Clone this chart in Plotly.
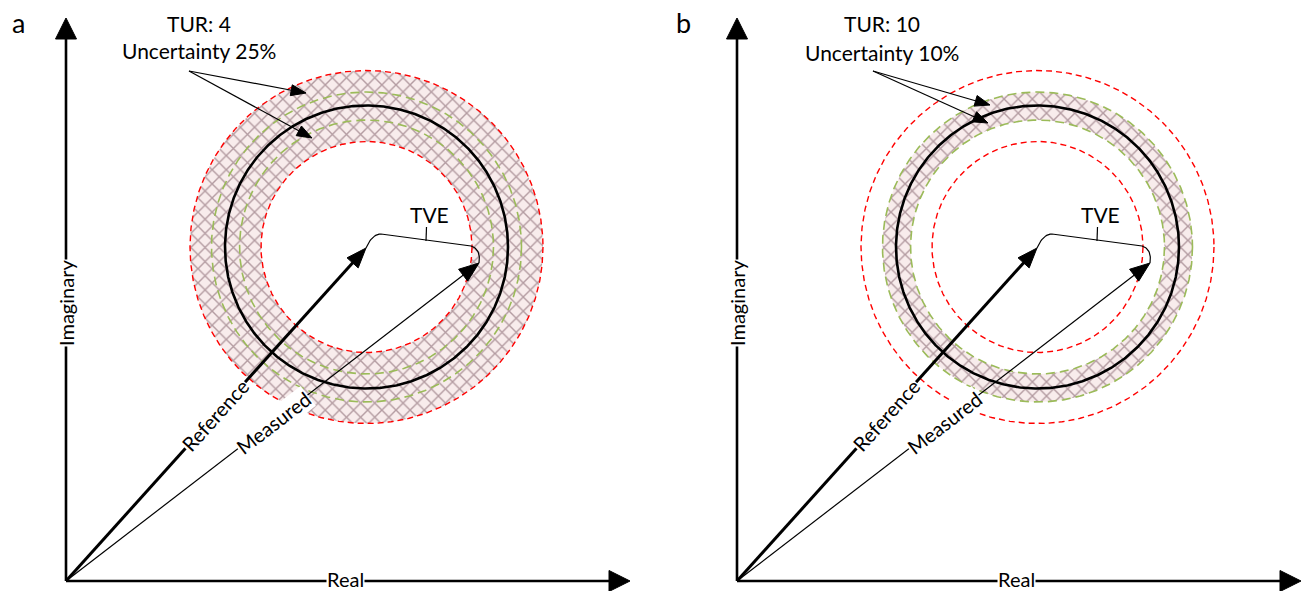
import numpy as np
import plotly.graph_objects as go

# ---------------- figure size ----------------
W, H = 1308, 591

# ---------------- diagram values (pixel units of the drawing) ----------------
panel_letters = ["a", "b"]
panel_letter_x = [18, 683]
panel_shift = [0, 671]
tur_values = [4, 10]
uncertainty_pct = [25, 10]

origin = (66, 581)
y_axis_tip = (66, 18)
x_axis_tip = (630, 581)
axis_labels = ["Imaginary", "Real"]
imag_label_y = 303
real_label_x = 345
real_label_y = 579

center = (366.5, 247)
r_reference = 141.5
r_red = [105.5, 176.5]          # dashed red limits (25 %)
r_green = [127.0, 155.0]        # dashed green limits (10 %)
r_hatch = [(105.5, 176.5), (127.0, 155.0)]   # hatched uncertainty band per panel

reference_tip = (366, 248)
measured_tip = (479, 263)
vector_labels = ["Reference", "Measured"]
reference_label_pos = (215, 415)
measured_label_pos = (273, 423)

# TVE bracket: start, control, corner, corner, control, end
tve_bracket = [(366, 248), (372, 234), (381, 234), (471, 246), (481, 249), (479, 263)]
tve_tick = [(426.5, 227), (426, 241)]
tve_text_pos = (429, 214)

tur_text_pos = [(199, 23), (882, 23)]
unc_text_pos = [(199, 50), (882, 52)]
pointer_from = [(189, 71), (873, 71)]
pointer_tips = [[(306, 93), (312, 138)], [(990, 105), (988, 123)]]

FONT = "Lato"
RED = "#ff0000"
GREEN = "#9bbb59"

fig = go.Figure()


def circle_xy(cx, cy, r, n=361, reverse=False):
    t = np.linspace(0, 2 * np.pi, n)
    if reverse:
        t = t[::-1]
    return cx + r * np.cos(t), cy + r * np.sin(t)


def add_line(xs, ys, color="black", width=1.0, dash=None):
    fig.add_trace(go.Scatter(x=list(xs), y=list(ys), mode="lines",
                             line=dict(color=color, width=width, dash=dash),
                             hoverinfo="skip", showlegend=False))


def add_arrow(p0, p1, width, head_len, head_half):
    p0 = np.array(p0, float)
    p1 = np.array(p1, float)
    d = p1 - p0
    d /= np.linalg.norm(d)
    n = np.array([-d[1], d[0]])
    base = p1 - d * head_len
    add_line([p0[0], base[0] + d[0] * 1.5], [p0[1], base[1] + d[1] * 1.5], width=width)
    a = base + n * head_half
    b = base - n * head_half
    fig.add_trace(go.Scatter(x=[p1[0], a[0], b[0], p1[0]], y=[p1[1], a[1], b[1], p1[1]],
                             mode="lines", fill="toself", fillcolor="black",
                             line=dict(color="black", width=1),
                             hoverinfo="skip", showlegend=False))


def quad_bezier(p0, c, p2, n=20):
    t = np.linspace(0, 1, n)[:, None]
    p0, c, p2 = (np.array(v, float) for v in (p0, c, p2))
    pts = (1 - t) ** 2 * p0 + 2 * (1 - t) * t * c + t ** 2 * p2
    return pts[:, 0], pts[:, 1]


annotations = []

for i, dx in enumerate(panel_shift):
    cx, cy = center[0] + dx, center[1]

    # hatched band
    r_in, r_out = r_hatch[i]
    xo, yo = circle_xy(cx, cy, r_out)
    xi, yi = circle_xy(cx, cy, r_in, reverse=True)
    fig.add_trace(go.Scatter(
        x=np.concatenate([xo, xi]), y=np.concatenate([yo, yi]),
        mode="lines", fill="toself", line=dict(width=0, color="rgba(0,0,0,0)"),
        fillcolor="#f7eaea",
        fillpattern=dict(shape="x", fgcolor="#6e4a55", bgcolor="#f8ecec",
                         size=10, solidity=0.26),
        hoverinfo="skip", showlegend=False))

    # dashed limit circles
    for r in r_green:
        x, y = circle_xy(cx, cy, r, n=721)
        add_line(x, y, color=GREEN, width=1.6, dash="9px,5px")
    for r in r_red:
        x, y = circle_xy(cx, cy, r, n=721)
        add_line(x, y, color=RED, width=1.4, dash="6px,4px")

    # reference circle
    x, y = circle_xy(cx, cy, r_reference, n=721)
    add_line(x, y, color="black", width=2.6)

    # axes
    o = (origin[0] + dx, origin[1])
    add_arrow(o, (y_axis_tip[0] + dx, y_axis_tip[1]), 2.6, 21, 10.5)
    add_arrow(o, (x_axis_tip[0] + dx, x_axis_tip[1]), 2.6, 21, 10.5)

    # vectors
    rt = (reference_tip[0] + dx, reference_tip[1])
    mt = (measured_tip[0] + dx, measured_tip[1])
    add_arrow(o, rt, 3.0, 20, 7.5)
    add_arrow(o, mt, 1.2, 20, 7.5)

    # TVE bracket
    b = [(px + dx, py) for px, py in tve_bracket]
    x1, y1 = quad_bezier(b[0], b[1], b[2])
    x2, y2 = quad_bezier(b[3], b[4], b[5])
    add_line(np.concatenate([x1, x2]), np.concatenate([y1, y2]), width=1.2)
    add_line([tve_tick[0][0] + dx, tve_tick[1][0] + dx], [tve_tick[0][1], tve_tick[1][1]], width=1.2)

    # TUR pointers
    for tip in pointer_tips[i]:
        add_arrow(pointer_from[i], tip, 1.2, 15, 5.5)

    # texts
    txt = dict(font=dict(family=FONT, size=21, color="black"), showarrow=False,
               xref="x", yref="y")
    annotations.append(dict(x=panel_letter_x[i], y=22, text=panel_letters[i],
                            font=dict(family=FONT, size=27, color="black"),
                            showarrow=False, xref="x", yref="y"))
    annotations.append(dict(x=tur_text_pos[i][0], y=tur_text_pos[i][1],
                            text=f"TUR: {tur_values[i]}", **txt))
    annotations.append(dict(x=unc_text_pos[i][0], y=unc_text_pos[i][1],
                            text=f"Uncertainty {uncertainty_pct[i]}%", **txt))
    annotations.append(dict(x=tve_text_pos[0] + dx, y=tve_text_pos[1], text="TVE", **txt))

    lbl = dict(font=dict(family=FONT, size=20, color="black"), showarrow=False,
               xref="x", yref="y", bgcolor="white", borderpad=0)
    annotations.append(dict(x=origin[0] + dx, y=imag_label_y, text=axis_labels[0],
                            textangle=-90, **lbl))
    annotations.append(dict(x=real_label_x + dx, y=real_label_y, text=axis_labels[1],
                            height=22, **lbl))

    ang_ref = -np.degrees(np.arctan2(origin[1] - reference_tip[1], reference_tip[0] - origin[0]))
    ang_mea = -np.degrees(np.arctan2(origin[1] - measured_tip[1], measured_tip[0] - origin[0]))
    annotations.append(dict(x=reference_label_pos[0] + dx, y=reference_label_pos[1],
                            text=vector_labels[0], textangle=ang_ref, **lbl))
    annotations.append(dict(x=measured_label_pos[0] + dx, y=measured_label_pos[1],
                            text=vector_labels[1], textangle=ang_mea, **lbl))

fig.update_layout(
    width=W, height=H,
    margin=dict(l=0, r=0, t=0, b=0),
    paper_bgcolor="white", plot_bgcolor="white",
    xaxis=dict(range=[0, W], visible=False, fixedrange=True),
    yaxis=dict(range=[H, 0], visible=False, fixedrange=True),
    annotations=annotations,
    showlegend=False,
)

fig.write_html("out.html", config={"displayModeBar": False},
               post_script="document.body.style.margin='0';document.body.style.overflow='hidden';")
